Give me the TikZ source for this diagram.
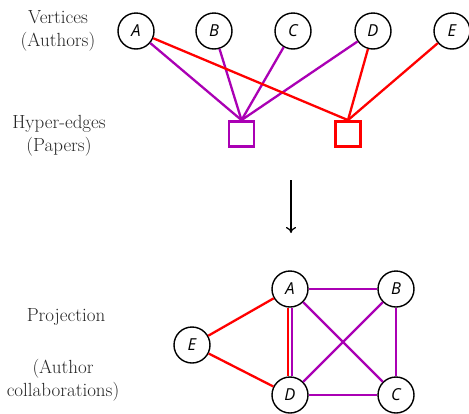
\documentclass[tikz,border=0pt]{standalone}
\usepackage{fontspec}
\newfontfamily\lblfont{Open Sans}
\usetikzlibrary{arrows.meta}
\definecolor{hpurple}{RGB}{170,0,180}
\definecolor{hred}{RGB}{255,0,0}
\tikzset{
  vert/.style={circle,draw=black,line width=1.4pt,minimum size=36pt,inner sep=0pt,fill=white,font=\fontsize{16.5}{18}\lblfont\itshape},
  hedge/.style={rectangle,line width=2.8pt,minimum size=25pt,inner sep=0pt},
  lab/.style={align=center,font=\fontsize{19}{23}\selectfont,text=black!85},
  pe/.style={hpurple,line width=2.3pt},
  re/.style={hred,line width=2.3pt},
}
\begin{document}
\begin{tikzpicture}[x=1pt,y=-1pt]
\useasboundingbox (0,0) rectangle (469,413);
% labels
\node[lab] (l1) at (58,31) {Vertices\\(Authors)};
\node[lab] (l2) at (59,136) {Hyper-edges\\(Papers)};
\node[lab] (l3) at (66,317) {Projection};
\node[lab] (l4) at (63,380) {(Author\\collaborations)};
% hypergraph
\node[hedge,draw=hpurple] (p1) at (241.5,134) {};
\node[hedge,draw=hred] (p2) at (348,134) {};
\node[vert] (A) at (136,31) {A};
\node[vert] (B) at (214,31) {B};
\node[vert] (C) at (293,31) {C};
\node[vert] (D) at (373,31) {D};
\node[vert] (E) at (452,31) {E};
\draw[pe] (A) -- (p1.north);
\draw[pe] (B) -- (p1.north);
\draw[pe] (C) -- (p1.north);
\draw[pe] (D) -- (p1.north);
\draw[re] (A) -- (p2.north);
\draw[re] (D) -- (p2.north);
\draw[re] (E) -- (p2.north);
% arrow
\coordinate (s) at (291,180);
\coordinate (t) at (291,233);
\draw[line width=1.2pt,-{To[length=6pt,width=10pt]}] (s) -- (t);
% projection
\node[vert] (a) at (290,289) {A};
\node[vert] (b) at (396,289) {B};
\node[vert] (c) at (396,395) {C};
\node[vert] (d) at (290,395) {D};
\node[vert] (e) at (192,345) {E};
\draw[re] (e) -- (a);
\draw[re] (e) -- (d);
\draw[re,line width=1.8pt] ([xshift=-2pt]a.south) -- ([xshift=-2pt]d.north);
\draw[pe,line width=1.8pt] ([xshift=2pt]a.south) -- ([xshift=2pt]d.north);
\draw[pe] (a) -- (b);
\draw[pe] (a) -- (c);
\draw[pe] (b) -- (d);
\draw[pe] (b) -- (c);
\draw[pe] (d) -- (c);
\end{tikzpicture}
\end{document}
